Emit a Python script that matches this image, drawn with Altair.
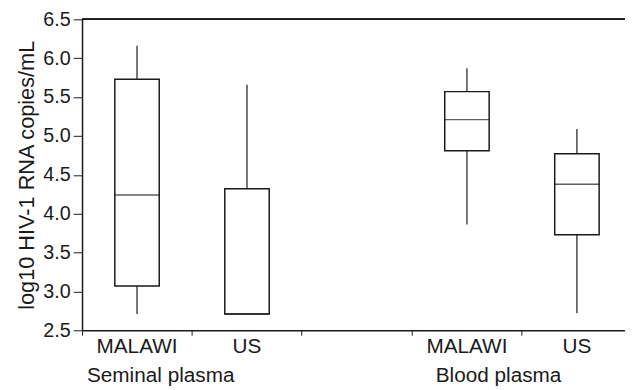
import altair as alt
import pandas as pd

# ---- data ----
groups = ["Seminal plasma", "Seminal plasma", "Blood plasma", "Blood plasma"]
countries = ["MALAWI", "US", "MALAWI", "US"]
whisker_low = [2.71, 2.71, 3.86, 2.72]
q1 = [3.07, 2.71, 4.81, 3.73]
median = [4.24, 2.71, 5.21, 4.38]
q3 = [5.73, 4.32, 5.57, 4.77]
whisker_high = [6.16, 5.66, 5.87, 5.09]

slot_order = ["Seminal plasma MALAWI", "Seminal plasma US", " ",
              "Blood plasma MALAWI", "Blood plasma US"]
y_ticks = [2.5, 3.0, 3.5, 4.0, 4.5, 5.0, 5.5, 6.0, 6.5]

df = pd.DataFrame({
    "group": groups,
    "country": countries,
    "lo": whisker_low,
    "q1": q1,
    "med": median,
    "q3": q3,
    "hi": whisker_high,
})
df["slot"] = df["group"] + " " + df["country"]

FONT = "Liberation Sans"
INK = "#1a1a1a"

xenc = alt.X(
    "slot:N",
    scale=alt.Scale(domain=slot_order, range=[0, 557], paddingInner=0, paddingOuter=0),
    axis=alt.Axis(title=None, labels=False, bandPosition=0, ticks=True, tickSize=5,
                  domainColor=INK, tickColor=INK, domainWidth=1.5, grid=False),
)
yscale = alt.Scale(domain=[2.5, 6.5], nice=False, zero=False)
yaxis = alt.Axis(
    title="log10 HIV-1 RNA copies/mL", values=y_ticks, format=".1f",
    grid=False, tickSize=9, labelFontSize=20, labelFont=FONT, labelColor=INK,
    labelPadding=3, titleFont=FONT, titleFontSize=22, titleFontWeight="normal",
    titleColor=INK, titlePadding=4, domainColor=INK, tickColor=INK, domainWidth=1.5,
)

base = alt.Chart(df)

whisk_low = base.mark_rule(color=INK, strokeWidth=1.2).encode(
    x=xenc, y=alt.Y("lo:Q", scale=yscale, axis=yaxis), y2="q1:Q")
whisk_high = base.mark_rule(color=INK, strokeWidth=1.2).encode(
    x=xenc, y=alt.Y("q3:Q", scale=yscale, axis=yaxis), y2="hi:Q")
boxes = base.mark_bar(fill="white", stroke=INK, strokeWidth=1.5, size=45).encode(
    x=xenc, y=alt.Y("q1:Q", scale=yscale, axis=yaxis), y2="q3:Q")
medians = base.mark_tick(color=INK, thickness=1.5, size=45).encode(
    x=xenc, y=alt.Y("med:Q", scale=yscale, axis=yaxis))

country_lbl = base.mark_text(font=FONT, fontSize=21, color=INK, baseline="middle").encode(
    x=xenc, y=alt.value(332), text="country:N")
semen_lbl = base.transform_filter(alt.datum.slot == "Seminal plasma MALAWI").mark_text(
    font=FONT, fontSize=21, color=INK, baseline="middle", dx=24).encode(
    x=xenc, y=alt.value(361), text="group:N")
blood_lbl = base.transform_filter(alt.datum.slot == "Blood plasma MALAWI").mark_text(
    font=FONT, fontSize=21, color=INK, baseline="middle", dx=32).encode(
    x=xenc, y=alt.value(361), text="group:N")

top_border = alt.Chart(df).mark_rule(color=INK, strokeWidth=1.5).encode(
    x=alt.value(0), x2=alt.value(560), y=alt.value(0))

chart = alt.layer(
    whisk_low, whisk_high, boxes, medians, country_lbl, semen_lbl, blood_lbl, top_border
).properties(
    width=550, height=315,
    autosize=alt.AutoSizeParams(type="none"),
    padding={"left": 75, "top": 9, "right": 0, "bottom": 58},
    background="white",
).configure_view(stroke=None)

chart.save("out.html", embed_options={"renderer": "svg", "actions": False})
